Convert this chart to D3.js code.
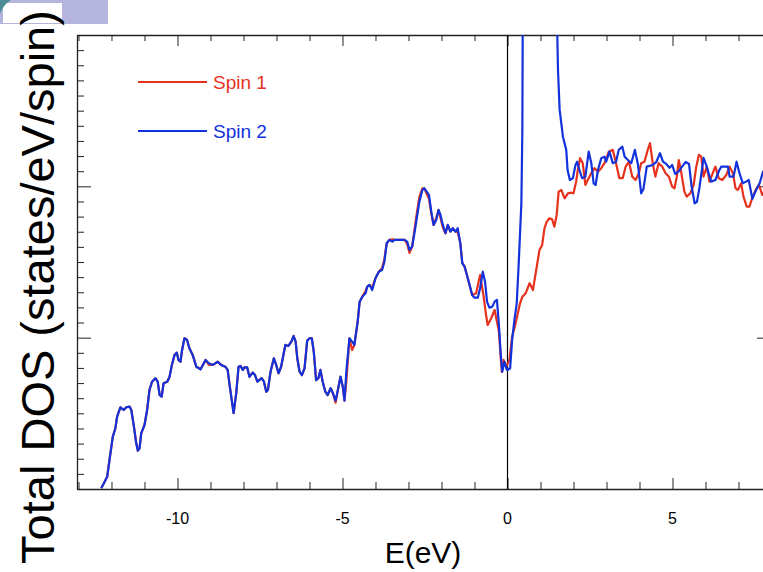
<!DOCTYPE html>
<html>
<head>
<meta charset="utf-8">
<script src="https://cdn.jsdelivr.net/npm/d3@7"></script>
<style>
  html, body { margin: 0; padding: 0; background: #ffffff; }
  svg { display: block; }
  text { font-family: "Liberation Sans", Arial, sans-serif; }
</style>
</head>
<body>
<div id="chart"></div>
<script>
// ---------------- data ----------------
const seriesNames = ["Spin 1", "Spin 2"];
const xTickLabels = [-10, -5, 0, 5];

// Valence region (both spins nearly identical)
const energyValence = [
  -12.31,-12.13,-12.06,-11.96,-11.88,-11.83,-11.73,-11.63,-11.55,-11.45,
  -11.40,-11.32,-11.25,-11.20,-11.15,-11.10,-11.00,-10.92,-10.85,-10.77,
  -10.67,-10.60,-10.54,-10.48,-10.42,-10.31,-10.24,-10.17,-10.09,-10.02,
  -9.97,-9.91,-9.86,-9.79,-9.71,-9.64,-9.54,-9.43,-9.30,-9.15,
  -9.05,-8.93,-8.78,-8.68,-8.55,-8.48,-8.42,-8.35,-8.30,-8.22,
  -8.15,-8.09,-8.02,-7.97,-7.89,-7.82,-7.72,-7.65,-7.58,-7.52,
  -7.45,-7.38,-7.31,-7.26,-7.18,-7.08,-7.01,-6.94,-6.86,-6.78,
  -6.73,-6.64,-6.55,-6.48,-6.42,-6.37,-6.30,-6.23,-6.15,-6.07,
  -6.00,-5.93,-5.87,-5.80,-5.73,-5.67,-5.60,-5.52,-5.45,-5.36,
  -5.29,-5.21,-5.14,-5.06,-4.99,-4.94,-4.88,-4.79,-4.71,-4.64,
  -4.54,-4.48,-4.40,-4.30,-4.25,-4.18,-4.10,-4.00,-3.90,-3.80,
  -3.73,-3.66,-3.58,-3.49,-3.42,-3.32,-3.22,-3.12,-3.04,-2.97,
  -2.89,-2.82,-2.75,-2.67,-2.58,-2.52,-2.45,-2.38,-2.31,-2.24,
  -2.16,-2.09,-2.03,-1.96,-1.88,-1.81,-1.73,-1.66,-1.58,-1.51,
  -1.43,-1.37,-1.30,-1.23,-1.15
];
const dosValenceSpin2 = [
  0.05,0.81,1.92,3.46,4.03,4.78,5.40,5.22,5.40,5.44,
  5.22,4.12,3.02,2.53,2.69,3.68,4.23,5.22,6.54,7.09,
  7.32,7.09,6.21,6.10,6.99,7.09,7.42,8.20,8.86,9.01,
  8.53,8.41,9.19,9.96,9.85,9.30,8.86,8.08,7.91,8.53,
  8.31,8.20,8.41,8.20,8.08,7.87,6.87,5.77,5.02,6.33,
  8.08,8.13,7.87,8.04,8.04,7.42,7.69,7.53,7.09,7.20,
  7.32,7.09,6.43,6.54,7.75,8.64,8.20,7.65,8.08,8.97,
  9.52,9.45,9.74,10.11,9.74,8.64,7.75,7.53,7.98,9.80,
  9.96,9.96,9.07,7.20,7.32,7.87,7.09,6.43,6.21,6.66,
  6.33,5.84,6.54,7.42,6.76,5.84,7.87,9.96,9.74,9.52,
  11.06,12.38,12.71,12.93,13.37,13.48,13.15,13.93,14.36,14.47,
  15.02,16.24,16.46,16.35,16.46,16.46,16.46,16.46,16.35,15.80,
  16.01,16.90,17.89,18.99,19.76,19.87,19.65,19.43,18.33,17.45,
  17.78,18.44,18.11,17.45,16.90,17.45,17.01,17.23,17.01,17.23,
  16.24,14.92,14.69,14.14,13.48
];
const dosValenceSpin1 = [
  0.05,0.81,1.92,3.46,4.03,4.78,5.40,5.22,5.40,5.44,
  5.22,4.12,3.02,2.53,2.69,3.68,4.23,5.22,6.54,7.09,
  7.32,7.09,6.21,6.10,6.99,7.09,7.42,8.20,8.86,9.01,
  8.53,8.41,9.19,9.96,9.85,9.30,8.86,8.08,7.91,8.53,
  8.20,8.20,8.41,8.20,8.08,7.87,6.87,5.77,5.02,6.33,
  8.08,8.13,7.87,8.04,8.04,7.42,7.69,7.53,7.09,7.20,
  7.32,7.09,6.43,6.54,7.75,8.64,8.20,7.65,8.08,8.97,
  9.52,9.45,9.74,10.11,9.74,8.64,7.75,7.53,7.98,9.80,
  9.96,9.96,9.07,7.20,7.32,7.87,7.09,6.43,6.21,6.66,
  6.33,5.70,6.54,7.42,6.76,5.84,7.20,9.96,9.19,9.52,
  11.06,12.38,12.71,13.10,13.37,13.48,13.30,13.93,14.36,14.60,
  15.20,16.24,16.46,16.50,16.46,16.46,16.46,16.46,16.20,15.60,
  16.01,17.10,18.20,19.30,19.87,19.87,19.50,19.20,18.20,17.45,
  17.90,18.44,17.90,17.30,16.90,17.45,17.01,17.23,17.01,17.00,
  16.24,14.92,14.69,14.14,13.48
];

// Near the gap and conduction region: Spin 1
const energyCondSpin1 = [
  -1.07,-0.95,-0.83,-0.73,-0.65,-0.60,-0.49,-0.39,-0.26,-0.19,
  -0.17,-0.12,-0.04,0.06,0.14,0.21,0.28,0.38,0.45,0.55,
  0.67,0.77,0.87,0.97,1.05,1.12,1.19,1.27,1.35,1.42,
  1.49,1.55,1.63,1.73,1.83,1.93,2.00,2.08,2.13,2.20,
  2.28,2.36,2.43,2.54,2.64,2.74,2.84,2.94,3.07,3.19,
  3.29,3.39,3.49,3.58,3.68,3.78,3.88,3.98,4.05,4.15,
  4.25,4.32,4.40,4.48,4.58,4.69,4.79,4.89,4.99,5.06,
  5.13,5.19,5.26,5.36,5.43,5.54,5.64,5.72,5.80,5.87,
  5.94,6.04,6.12,6.22,6.30,6.40,6.51,6.63,6.73,6.83,
  6.91,6.98,7.08,7.15,7.25,7.33,7.43,7.52,7.62,7.72,
  7.82
];
const dosCondSpin1 = [
  12.82,12.93,14.14,12.82,11.50,10.84,11.30,11.83,10.40,8.20,
  7.73,8.53,8.08,8.53,10.07,10.62,11.28,12.27,12.71,12.93,
  13.60,13.15,14.47,15.80,16.13,17.23,17.67,17.89,17.83,17.34,
  18.11,19.65,19.76,19.21,19.54,19.58,19.54,20.31,21.08,21.86,
  21.53,20.09,20.42,20.87,21.20,20.97,21.20,21.53,22.29,22.41,
  21.53,20.54,20.54,21.30,21.63,20.64,20.42,20.87,21.53,21.63,
  22.41,22.85,21.53,20.64,21.53,21.30,20.87,20.64,19.98,19.87,
  20.64,21.74,20.97,19.65,19.32,19.54,20.09,21.30,22.08,21.96,
  20.64,21.30,20.31,20.87,21.30,20.54,20.42,20.75,21.30,20.87,
  19.87,19.76,20.20,19.32,18.66,18.66,19.32,19.76,20.09,19.43,
  19.76
];

// Near the gap and conduction region: Spin 2
const energyCondSpin2 = [
  -1.07,-1.00,-0.90,-0.83,-0.75,-0.68,-0.62,-0.55,-0.46,-0.39,
  -0.32,-0.26,-0.21,-0.16,-0.09,-0.02,0.01,0.08,0.14,0.21,
  0.28,0.34,0.42,0.45,0.46,0.55,0.97,1.42,1.50,1.53,
  1.58,1.68,1.78,1.82,1.89,1.98,2.06,2.11,2.18,2.26,
  2.36,2.46,2.54,2.61,2.67,2.74,2.84,2.94,2.99,3.09,
  3.19,3.29,3.37,3.48,3.55,3.65,3.75,3.86,3.95,4.05,
  4.12,4.22,4.40,4.51,4.62,4.71,4.81,4.91,4.99,5.08,
  5.18,5.29,5.40,5.50,5.58,5.67,5.74,5.82,5.94,6.04,
  6.17,6.30,6.42,6.48,6.68,6.73,6.85,6.94,7.03,7.13,
  7.23,7.31,7.42,7.52,7.64,7.74,7.82
];
const dosCondSpin2 = [
  12.82,12.64,12.64,13.27,14.36,13.70,12.38,11.98,12.05,12.38,
  12.49,10.84,9.07,7.75,8.41,7.87,7.87,7.98,9.85,11.17,
  12.27,14.92,18.88,23.73,30.0,36.0,45.0,36.0,31.0,27.69,
  25.05,23.28,22.41,21.08,20.42,20.54,21.41,21.63,21.08,20.54,
  20.64,22.29,21.53,20.20,20.09,21.08,21.86,21.96,21.63,22.29,
  21.53,21.63,22.41,22.62,21.96,21.74,21.53,22.41,21.48,19.54,
  19.83,21.30,21.41,21.61,22.19,21.63,21.48,21.22,21.41,20.82,
  20.97,21.30,21.61,21.48,19.98,18.88,18.97,19.96,21.88,21.28,
  20.31,20.42,21.08,21.30,21.30,20.64,20.64,21.63,20.87,20.20,
  20.31,20.42,19.17,19.70,20.20,20.95,21.20
];

// ---------------- build ----------------
const W = 763, H = 572;
const plot = { left: 77, top: 35, right: 770, bottom: 489 };
const visibleRight = 763;
const colors = { "Spin 1": "#e6321c", "Spin 2": "#1232dc" };

const x = d3.scaleLinear().domain([-13.045, 7.742]).range([plot.left, visibleRight]);
const y = d3.scaleLinear().domain([0, 30]).range([plot.bottom, plot.top]);

function pts(es, vs) { return es.map((e, i) => ({ e: e, v: vs[i] })).filter(d => d.v !== undefined); }
const spin1 = pts(energyValence, dosValenceSpin1).concat(pts(energyCondSpin1, dosCondSpin1));
const spin2 = pts(energyValence, dosValenceSpin2).concat(pts(energyCondSpin2, dosCondSpin2));

const svg = d3.select("#chart").append("svg").attr("width", W).attr("height", H);

// top-left slide decoration
svg.append("rect").attr("x", 0).attr("y", 0).attr("width", 108).attr("height", 24).attr("fill", "#b4b4dc");
svg.append("rect").attr("x", 3).attr("y", 3).attr("width", 59).attr("height", 20).attr("fill", "#ffffff");
svg.append("path").attr("d", "M0,0 L11,0 Q3,5 0,14 Z").attr("fill", "#4e8c96");

svg.append("defs").append("clipPath").attr("id", "plotclip")
  .append("rect").attr("x", plot.left).attr("y", plot.top)
  .attr("width", plot.right - plot.left).attr("height", plot.bottom - plot.top);

// axes (ticks pointing inward)
const xMinor = d3.range(-13, 8, 1);
const yMinor = d3.range(0, 31, 1);
const axisColor = "#222";

function styleAxis(g) {
  g.select(".domain").attr("stroke", axisColor).attr("stroke-width", 1.3);
  g.selectAll(".tick line").attr("stroke", axisColor).attr("stroke-width", 1);
  g.selectAll(".tick text").remove();
}

// bottom
const gb = svg.append("g").attr("transform", `translate(0,${plot.bottom})`)
  .call(d3.axisBottom(x).tickValues(xMinor).tickSizeInner(-7).tickSizeOuter(0));
styleAxis(gb);
gb.selectAll(".tick line").filter(d => d % 5 === 0).attr("y2", -11);
// top
const gt = svg.append("g").attr("transform", `translate(0,${plot.top})`)
  .call(d3.axisTop(x).tickValues(xMinor).tickSizeInner(-6).tickSizeOuter(0));
styleAxis(gt);
gt.selectAll(".tick line").filter(d => d % 5 === 0).attr("y2", 11);
// left
const gl = svg.append("g").attr("transform", `translate(${plot.left},0)`)
  .call(d3.axisLeft(y).tickValues(yMinor).tickSizeInner(-7).tickSizeOuter(0));
styleAxis(gl);
gl.selectAll(".tick line").filter(d => d % 10 === 0).attr("x2", 14);
// right (outside the visible window, only long ticks reach in)
const gr = svg.append("g").attr("transform", `translate(${plot.right},0)`)
  .call(d3.axisRight(y).tickValues(yMinor).tickSizeInner(-7).tickSizeOuter(0));
styleAxis(gr);
gr.selectAll(".tick line").filter(d => d % 10 === 0).attr("x2", -13);

// x tick labels
svg.append("g").selectAll("text").data(xTickLabels).join("text")
  .attr("x", d => x(d)).attr("y", 524)
  .attr("text-anchor", "middle").attr("font-size", 16).attr("fill", "#000")
  .text(d => d);

// zero line
svg.append("line").attr("x1", x(0)).attr("x2", x(0)).attr("y1", plot.top).attr("y2", plot.bottom)
  .attr("stroke", "#000").attr("stroke-width", 1.2);

// curves
const line = d3.line().x(d => x(d.e)).y(d => y(d.v));
const gc = svg.append("g").attr("clip-path", "url(#plotclip)");
gc.append("path").datum(spin1).attr("d", line).attr("fill", "none")
  .attr("stroke", colors["Spin 1"]).attr("stroke-width", 2.2).attr("stroke-linejoin", "round");
gc.append("path").datum(spin2).attr("d", line).attr("fill", "none")
  .attr("stroke", colors["Spin 2"]).attr("stroke-width", 2.2).attr("stroke-linejoin", "round");

// legend
const lg = svg.append("g");
seriesNames.forEach((name, i) => {
  const yy = 82 + i * 49;
  lg.append("line").attr("x1", 138).attr("x2", 207).attr("y1", yy).attr("y2", yy)
    .attr("stroke", colors[name]).attr("stroke-width", 2.2);
  lg.append("text").attr("x", 213).attr("y", yy + 6.5).attr("font-size", 19)
    .attr("fill", colors[name]).text(name);
});

// axis titles
svg.append("text").attr("x", 423).attr("y", 563).attr("text-anchor", "middle")
  .attr("font-size", 30).attr("fill", "#000").text("E(eV)");
svg.append("text").attr("transform", "translate(54,287) rotate(-90)")
  .attr("text-anchor", "middle").attr("font-size", 47).attr("fill", "#000")
  .text("Total DOS (states/eV/spin)");
</script>
</body>
</html>
